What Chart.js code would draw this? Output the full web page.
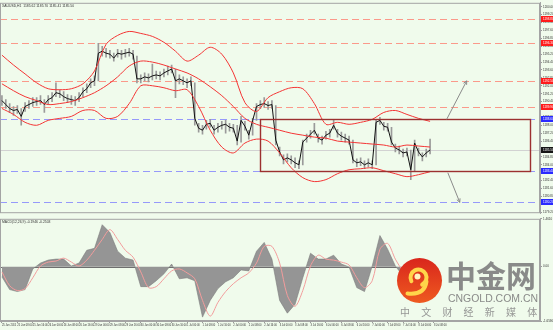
<!DOCTYPE html>
<html>
<head>
<meta charset="utf-8">
<script src="https://cdn.jsdelivr.net/npm/chart.js@4.4.1/dist/chart.umd.min.js"></script>
<style>
  html, body { margin: 0; padding: 0; background: #f0fbec; }
  #wrap { position: relative; width: 553px; height: 330px; overflow: hidden; }
  #priceBox { position: absolute; left: 0; top: 0; width: 553px; height: 216px; }
  #macdBox { position: absolute; left: 0; top: 216px; width: 553px; height: 114px; }
</style>
</head>
<body>
<div id="wrap">
  <div id="priceBox"><canvas id="priceChart"></canvas></div>
  <div id="macdBox"><canvas id="macdChart"></canvas></div>
</div>
<script>
const timeLabels = ['25 Jun 2015', '25 Jun 08:00', '25 Jun 16:00', '26 Jun 00:00', '26 Jun 08:00', '26 Jun 16:00',
    '29 Jun 00:00', '29 Jun 08:00', '29 Jun 16:00', '30 Jun 00:00', '30 Jun 08:00', '30 Jun 16:00',
    '1 Jul 00:00', '1 Jul 08:00', '1 Jul 16:00', '2 Jul 00:00', '2 Jul 08:00', '2 Jul 16:00',
    '3 Jul 00:00', '3 Jul 08:00', '3 Jul 16:00', '6 Jul 00:00', '6 Jul 08:00', '6 Jul 16:00',
    '7 Jul 00:00', '7 Jul 08:00', '7 Jul 16:00', '8 Jul 00:00', '8 Jul 08:00'];

const closes = [1190.5, 1190.1, 1189.7, 1189.5, 1189.6, 1188.9, 1189.9, 1190.1, 1190.3, 1190.4,
    1190.5, 1190.1, 1190.6, 1190.8, 1191.3, 1191.2, 1190.9, 1190.7, 1190.6, 1190.5,
    1190.8, 1191.4, 1191.7, 1192.3, 1192.5, 1195.3, 1195.5, 1195.3, 1195.2, 1194.8,
    1195.3, 1195.2, 1195.3, 1195.4, 1195.2, 1192.7, 1192.7, 1192.9, 1192.8, 1193.0,
    1193.1, 1193.0, 1193.3, 1193.5, 1193.7, 1192.5, 1192.7, 1192.5, 1192.3, 1192.5,
    1188.7, 1187.7, 1187.5, 1188.1, 1188.2, 1187.5, 1187.8, 1188.0, 1188.1, 1187.8,
    1187.7, 1186.4, 1188.5, 1187.9, 1187.0, 1188.5, 1189.9, 1190.1, 1190.2, 1190.0,
    1190.1, 1186.5, 1185.3, 1184.5, 1184.7, 1184.5, 1184.2, 1184.0, 1186.3, 1186.7,
    1187.1, 1187.5, 1186.7, 1186.5, 1187.0, 1187.2, 1188.0, 1187.2, 1186.9, 1186.7,
    1186.5, 1184.5, 1184.2, 1184.3, 1184.0, 1184.2, 1184.0, 1188.3, 1188.5, 1187.9,
    1187.8, 1186.3, 1185.7, 1185.5, 1185.2, 1185.3, 1183.5, 1186.2, 1185.3, 1184.8,
    1185.2, 1185.5];

const highs = [1191.0, 1190.6, 1190.2, 1189.9, 1190.0, 1189.7, 1190.3, 1190.5, 1190.8, 1190.8,
    1191.0, 1190.6, 1191.0, 1191.3, 1192.3, 1191.6, 1191.4, 1191.1, 1191.0, 1190.9,
    1191.3, 1191.8, 1192.2, 1192.7, 1193.0, 1196.3, 1196.0, 1195.8, 1195.6, 1195.3,
    1195.7, 1195.6, 1195.7, 1195.8, 1195.6, 1195.0, 1193.1, 1193.3, 1193.2, 1194.2,
    1193.5, 1193.4, 1193.7, 1194.0, 1194.1, 1193.7, 1193.1, 1192.9, 1192.7, 1192.9,
    1192.3, 1188.2, 1188.0, 1188.5, 1188.6, 1188.0, 1188.2, 1188.4, 1188.5, 1188.2,
    1188.1, 1188.0, 1188.9, 1188.4, 1187.5, 1188.7, 1190.2, 1190.5, 1190.8, 1190.4,
    1190.5, 1190.0, 1185.8, 1185.0, 1185.1, 1184.9, 1184.7, 1184.4, 1186.5, 1187.1,
    1187.5, 1188.2, 1187.1, 1186.9, 1187.4, 1187.6, 1188.5, 1187.6, 1187.3, 1187.1,
    1186.9, 1186.5, 1184.6, 1184.7, 1184.4, 1184.6, 1184.4, 1188.5, 1188.8, 1188.3,
    1188.2, 1187.8, 1186.1, 1185.9, 1185.6, 1185.7, 1185.5, 1186.5, 1185.7, 1185.2,
    1185.6, 1186.6];

const lows = [1190.0, 1189.7, 1189.3, 1189.0, 1189.2, 1188.0, 1189.4, 1189.7, 1189.9, 1190.0,
    1190.1, 1189.3, 1190.1, 1190.4, 1190.9, 1190.8, 1190.5, 1190.3, 1190.1, 1190.0,
    1190.4, 1190.9, 1191.3, 1191.8, 1192.0, 1192.5, 1195.0, 1194.9, 1194.8, 1194.5,
    1194.9, 1194.7, 1194.9, 1195.0, 1194.7, 1192.3, 1192.3, 1192.5, 1192.4, 1192.6,
    1192.7, 1192.6, 1192.9, 1193.1, 1193.3, 1190.8, 1192.2, 1192.1, 1191.8, 1192.0,
    1188.0, 1187.3, 1187.1, 1187.6, 1187.8, 1187.1, 1187.3, 1187.6, 1187.2, 1187.4,
    1187.3, 1186.0, 1186.3, 1187.5, 1186.6, 1187.0, 1188.5, 1189.7, 1189.8, 1189.6,
    1189.7, 1186.0, 1184.9, 1184.1, 1184.3, 1184.1, 1183.7, 1183.6, 1184.0, 1186.3,
    1186.7, 1187.1, 1186.3, 1186.1, 1186.6, 1186.8, 1187.6, 1186.8, 1186.5, 1186.3,
    1186.1, 1184.2, 1183.8, 1183.9, 1183.6, 1183.8, 1183.6, 1184.0, 1188.1, 1187.5,
    1187.4, 1186.0, 1185.3, 1185.1, 1184.8, 1184.9, 1182.5, 1183.3, 1184.9, 1184.4,
    1184.8, 1185.1];

// Bandes de Bollinger (une valeur toutes les 3 barres)
const upperBand = [1195.1, 1194.1, 1193.2, 1192.3, 1191.7, 1191.6, 1191.7, 1192.2, 1193.5, 1196.2,
    1197.1, 1197.5, 1197.3, 1197.0, 1196.4, 1195.5, 1194.5, 1195.1, 1195.9, 1195.2,
    1193.3, 1190.3, 1189.4, 1190.8, 1191.4, 1191.8, 1191.7, 1190.2, 1188.1, 1188.3,
    1188.1, 1188.3, 1188.6, 1189.3, 1189.5, 1189.1, 1188.7, 1188.4];
const middleBand = [1192.2, 1191.5, 1190.9, 1190.5, 1190.1, 1190.2, 1190.4, 1190.8, 1191.3, 1192.0,
    1192.9, 1194.0, 1194.5, 1194.4, 1194.1, 1193.7, 1193.3, 1192.7, 1191.9, 1191.0,
    1189.9, 1188.7, 1188.1, 1187.8, 1187.5, 1187.2, 1187.0, 1186.8, 1186.7, 1186.4,
    1186.3, 1186.2, 1186.1, 1186.0, 1185.8, 1186.0, 1185.9, 1185.8];
const lowerBand = [1189.7, 1189.1, 1188.3, 1188.0, 1188.5, 1188.7, 1188.9, 1189.5, 1189.5, 1188.7,
    1188.9, 1190.2, 1192.0, 1192.0, 1191.8, 1191.5, 1191.6, 1189.9, 1187.5, 1185.8,
    1185.2, 1186.2, 1186.6, 1186.4, 1185.2, 1183.7, 1182.7, 1182.3, 1182.5, 1183.1,
    1183.5, 1183.6, 1183.7, 1183.4, 1183.1, 1182.8, 1183.0, 1183.3];

// MACD (une valeur toutes les 2 barres)
const macdHist = [-0.31, -0.70, -0.76, -0.70, -0.07, 0.11, 0.20, 0.23, 0.23, 0.02,
    0.11, 0.50, 0.56, 1.28, 1.04, 0.47, 0.26, 0.20, -0.61, -0.61,
    -0.43, -0.22, 0.08, -0.37, -0.34, -0.43, -1.54, -1.03, -0.67, -0.46,
    -0.34, -0.10, -0.13, 0.47, 0.74, 0.23, -1.03, -1.42, -1.15, -0.34,
    0.41, 0.23, 0.23, 0.35, 0.08, -0.01, -0.64, -0.76, 0.02, 0.95,
    0.53, 0.02, -0.28, -0.37, -0.25, -0.19];
const macdSignal = [-0.16, -0.58, -0.73, -0.67, -0.34, 0.02, 0.14, 0.17, 0.26, 0.14,
    0.02, 0.20, 0.50, 0.83, 1.13, 0.83, 0.50, 0.29, -0.16, -0.64,
    -0.61, -0.37, -0.13, -0.07, -0.19, -0.37, -1.03, -1.51, -1.09, -0.76,
    -0.52, -0.34, -0.19, 0.11, 0.62, 0.62, 0.11, -0.88, -1.21, -0.73,
    0.02, 0.35, 0.23, 0.20, 0.14, 0.05, -0.34, -0.64, -0.43, 0.53,
    0.71, 0.23, -0.13, -0.31, -0.31, -0.25];

const priceTicks = [1179.2, 1180.0, 1180.8, 1181.6, 1182.4, 1183.2, 1184.0, 1184.8, 1185.6, 1186.4,
    1187.2, 1188.0, 1188.8, 1189.6, 1190.4, 1191.2, 1192.0, 1192.8, 1193.6, 1194.4,
    1195.2, 1196.0, 1196.8, 1197.6, 1198.4, 1199.2, 1200.0];
const macdTicks = [-1.659, 0, 1.461];

// Niveaux tracés à la main sur le graphique
const resistLevels = [1198.8, 1196.3, 1192.5, 1189.9];
const supportLevels = [1188.6, 1183.4, 1180.2];
const lastPrice = 1185.5;
const rangeBox = [67, 137, 1188.6, 1183.4];      // barre début, barre fin, haut, bas
const upArrow = [115.3, 1188.6, 120.5, 1192.5];
const downArrow = [115.6, 1183.2, 118.7, 1180.2];

const COLORS = {
    frame: '#a4a4a4',
    close: '#111111',
    wick: '#9a9a9a',
    band: '#f43434',
    resist: 'rgb(255, 120, 105)',
    support: 'rgb(120, 120, 255)',
    box: '#9c3030',
    arrow: '#8a8a8a',
    hist: '#959595',
    signal: '#f29c9c',
    text: '#333333'
};

Chart.defaults.font.family = '"Liberation Sans", Arial, sans-serif';
Chart.defaults.animation = false;

// Ligne horizontale pointillée sur toute la zone du graphique
function hLine(ctx, area, py, color, dash) {
    const yy = Math.round(py) + 0.5;
    ctx.save();
    ctx.globalAlpha = dash ? 0.75 : 1;
    ctx.strokeStyle = color;
    ctx.lineWidth = 1;
    ctx.setLineDash(dash || []);
    ctx.beginPath();
    ctx.moveTo(area.left, yy);
    ctx.lineTo(area.right, yy);
    ctx.stroke();
    ctx.restore();
}

function drawArrow(ctx, x1, y1, x2, y2) {
    const ang = Math.atan2(y2 - y1, x2 - x1);
    ctx.strokeStyle = COLORS.arrow;
    ctx.lineWidth = 1;
    ctx.beginPath();
    ctx.moveTo(x1, y1);
    ctx.lineTo(x2, y2);
    ctx.moveTo(x2 - 4 * Math.cos(ang - 0.45), y2 - 4 * Math.sin(ang - 0.45));
    ctx.lineTo(x2, y2);
    ctx.lineTo(x2 - 4 * Math.cos(ang + 0.45), y2 - 4 * Math.sin(ang + 0.45));
    ctx.stroke();
}

function drawTag(ctx, area, py, value, color) {
    const yy = Math.round(py);
    ctx.fillStyle = color;
    ctx.fillRect(area.right + 1, yy - 3, 12, 6);
    ctx.fillStyle = '#ffffff';
    ctx.font = '3px "Liberation Sans"';
    ctx.textBaseline = 'middle';
    ctx.textAlign = 'left';
    ctx.fillText(value.toFixed(2), area.right + 3, yy + 0.3);
}

function drawFrame(ctx, a) {
    ctx.strokeStyle = COLORS.frame;
    ctx.lineWidth = 1;
    ctx.strokeRect(a.left + 0.5, a.top + 0.5, a.right - a.left - 1, a.bottom - a.top - 1);
}

const pricePlugin = {
    id: 'priceDecor',
    beforeDatasetsDraw(chart) {
        const {ctx, chartArea: a, scales: {y}} = chart;
        ctx.save();
        hLine(ctx, a, y.getPixelForValue(lastPrice), '#d2d2d2');
        resistLevels.forEach(v => hLine(ctx, a, y.getPixelForValue(v), COLORS.resist, [7, 4]));
        supportLevels.forEach(v => hLine(ctx, a, y.getPixelForValue(v), COLORS.support, [7, 4]));
        ctx.restore();
    },
    afterDatasetsDraw(chart) {
        const {ctx, scales: {x, y}} = chart;
        ctx.save();
        const bx1 = Math.round(x.getPixelForValue(rangeBox[0])) + 0.5;
        const bx2 = Math.round(x.getPixelForValue(rangeBox[1])) + 0.5;
        const by1 = Math.round(y.getPixelForValue(rangeBox[2])) + 0.5;
        const by2 = Math.round(y.getPixelForValue(rangeBox[3])) + 0.5;
        ctx.strokeStyle = COLORS.box;
        ctx.lineWidth = 1.4;
        ctx.strokeRect(bx1, by1, bx2 - bx1, by2 - by1);
        [upArrow, downArrow].forEach(ar => {
            drawArrow(ctx, x.getPixelForValue(ar[0]), y.getPixelForValue(ar[1]),
                x.getPixelForValue(ar[2]), y.getPixelForValue(ar[3]));
        });
        ctx.restore();
    },
    afterDraw(chart) {
        const {ctx, chartArea: a, scales: {y}} = chart;
        ctx.save();
        drawFrame(ctx, a);
        resistLevels.forEach(v => drawTag(ctx, a, y.getPixelForValue(v), v, '#ff1c1c'));
        supportLevels.forEach(v => drawTag(ctx, a, y.getPixelForValue(v), v, '#2a2aff'));
        drawTag(ctx, a, y.getPixelForValue(lastPrice), lastPrice, '#151515');
        ctx.fillStyle = COLORS.text;
        ctx.font = '3.4px "Liberation Sans"';
        ctx.textBaseline = 'middle';
        ctx.fillText('XAUUSD,H1  1185.62 1185.70 1185.41 1185.50', a.left + 2, a.top + 3);
        ctx.restore();
    }
};

function drawLogo(ctx) {
    const cx = 419.5, cy = 64.5, r = 22.5;
    const g = ctx.createLinearGradient(cx, cy - r, cx, cy + r);
    g.addColorStop(0, '#d9261c');
    g.addColorStop(1, '#ee5a20');
    ctx.fillStyle = g;
    ctx.beginPath();
    ctx.arc(cx, cy, r, 0, Math.PI * 2);
    ctx.fill();
    ctx.lineCap = 'round';
    ctx.strokeStyle = '#ffd54a';
    ctx.lineWidth = 4;
    ctx.beginPath();
    ctx.arc(cx - 1, cy - 3, 8, Math.PI * 0.85, Math.PI * 2.35);
    ctx.stroke();
    ctx.beginPath();
    ctx.moveTo(cx + 7, cy + 1);
    ctx.quadraticCurveTo(cx + 5, cy + 15, cx - 12, cy + 13);
    ctx.stroke();
    ctx.fillStyle = '#fff3c0';
    ctx.beginPath();
    ctx.arc(cx - 2, cy - 4, 3, 0, Math.PI * 2);
    ctx.fill();

    ctx.fillStyle = 'rgba(128,128,128,0.92)';
    ctx.textBaseline = 'middle';
    ctx.textAlign = 'left';
    ctx.font = 'bold 30px "Noto Sans CJK SC"';
    ctx.fillText('中金网', 446, 60, 92);
    ctx.font = '11px "Liberation Sans"';
    ctx.fillText('CNGOLD.COM.CN', 448, 82.5, 90);
    ctx.fillStyle = 'rgba(140,140,140,0.9)';
    ctx.font = '10px "Noto Sans CJK SC"';
    ctx.textAlign = 'center';
    '中文财经新媒体'.split('').forEach((ch, k) => ctx.fillText(ch, 405 + k * 21.2, 96));
}

const macdPlugin = {
    id: 'macdDecor',
    beforeDatasetsDraw(chart) {
        const {ctx, scales: {x, y}} = chart;
        ctx.save();
        const y0 = Math.round(y.getPixelForValue(0)) + 0.5;
        ctx.strokeStyle = '#6e6e6e';
        ctx.lineWidth = 1;
        ctx.beginPath();
        ctx.moveTo(chart.chartArea.left, y0);
        ctx.lineTo(x.getPixelForValue(closes.length - 1), y0);
        ctx.stroke();
        ctx.restore();
    },
    afterDraw(chart) {
        const {ctx, chartArea: a} = chart;
        ctx.save();
        drawFrame(ctx, a);
        ctx.fillStyle = COLORS.text;
        ctx.font = '3.4px "Liberation Sans"';
        ctx.textBaseline = 'middle';
        ctx.fillText('MACD(12,26,9) -0.1946 -0.2503', a.left + 2, a.top + 3);
        drawLogo(ctx);
        ctx.restore();
    }
};

const xRange = { type: 'linear', min: -0.5, max: 139.5, offset: false };

function initPriceChart() {
    const ctx = document.getElementById('priceChart').getContext('2d');
    const bandStyle = { borderColor: COLORS.band, borderWidth: 1, pointRadius: 0, tension: 0.3, fill: false, order: 1 };
    return new Chart(ctx, {
        type: 'line',
        data: {
            datasets: [
                {
                    type: 'bar',
                    label: 'Plage',
                    data: closes.map((c, i) => ({ x: i, y: [lows[i], highs[i]] })),
                    backgroundColor: COLORS.wick,
                    barThickness: 1,
                    order: 3
                },
                {
                    label: 'Clôture',
                    data: closes.map((c, i) => ({ x: i, y: c })),
                    borderColor: COLORS.close,
                    borderWidth: 1,
                    pointRadius: 0,
                    tension: 0,
                    order: 2
                },
                { label: 'Bande haute', data: upperBand.map((v, k) => ({ x: k * 3, y: v })), ...bandStyle },
                { label: 'Moyenne', data: middleBand.map((v, k) => ({ x: k * 3, y: v })), ...bandStyle },
                { label: 'Bande basse', data: lowerBand.map((v, k) => ({ x: k * 3, y: v })), ...bandStyle }
            ]
        },
        options: {
            responsive: true,
            maintainAspectRatio: false,
            devicePixelRatio: 1,
            layout: { padding: { top: 1, bottom: 2, left: 0, right: 0 } },
            plugins: { legend: { display: false }, tooltip: { enabled: false } },
            scales: {
                x: { ...xRange, display: false },
                y: {
                    position: 'right',
                    min: 1179.1,
                    max: 1200.4,
                    afterFit: s => { s.width = 13; },
                    afterBuildTicks: s => { s.ticks = priceTicks.map(v => ({ value: v })); },
                    grid: { display: true, drawOnChartArea: false, tickLength: 2, color: '#9a9a9a' },
                    border: { color: COLORS.frame },
                    ticks: {
                        autoSkip: false,
                        padding: 1,
                        color: COLORS.text,
                        font: { size: 3 },
                        callback: v => v.toFixed(2)
                    }
                }
            }
        },
        plugins: [pricePlugin]
    });
}

function initMacdChart() {
    const ctx = document.getElementById('macdChart').getContext('2d');
    return new Chart(ctx, {
        type: 'line',
        data: {
            datasets: [
                {
                    label: 'MACD',
                    data: macdHist.map((v, k) => ({ x: k * 2, y: v })),
                    borderColor: '#7c7c7c',
                    borderWidth: 0.6,
                    backgroundColor: COLORS.hist,
                    fill: 'origin',
                    pointRadius: 0,
                    tension: 0,
                    order: 2
                },
                {
                    label: 'Signal',
                    data: macdSignal.map((v, k) => ({ x: k * 2, y: v })),
                    borderColor: COLORS.signal,
                    borderWidth: 1,
                    pointRadius: 0,
                    tension: 0.3,
                    fill: false,
                    order: 1
                }
            ]
        },
        options: {
            responsive: true,
            maintainAspectRatio: false,
            devicePixelRatio: 1,
            layout: { padding: { top: 1, bottom: 0, left: 0, right: 0 } },
            plugins: { legend: { display: false }, tooltip: { enabled: false } },
            scales: {
                x: {
                    ...xRange,
                    afterFit: s => { s.height = 9; },
                    afterBuildTicks: s => { s.ticks = timeLabels.map((t, k) => ({ value: k * 4 })); },
                    grid: { display: true, drawOnChartArea: false, tickLength: 2, color: '#9a9a9a' },
                    border: { color: COLORS.frame },
                    ticks: {
                        autoSkip: false,
                        maxRotation: 0,
                        align: 'start',
                        padding: 1,
                        color: COLORS.text,
                        font: { size: 2.6 },
                        callback: v => timeLabels[Math.round(v / 4)]
                    }
                },
                y: {
                    position: 'right',
                    min: -1.659,
                    max: 1.461,
                    afterFit: s => { s.width = 13; },
                    afterBuildTicks: s => { s.ticks = macdTicks.map(v => ({ value: v })); },
                    grid: { display: true, drawOnChartArea: false, tickLength: 2, color: '#9a9a9a' },
                    border: { color: COLORS.frame },
                    ticks: {
                        autoSkip: false,
                        padding: 1,
                        color: COLORS.text,
                        font: { size: 3 },
                        callback: v => (v === 0 ? '0.00' : v.toFixed(4))
                    }
                }
            }
        },
        plugins: [macdPlugin]
    });
}

document.addEventListener('DOMContentLoaded', () => {
    initPriceChart();
    initMacdChart();
});
</script>
</body>
</html>
